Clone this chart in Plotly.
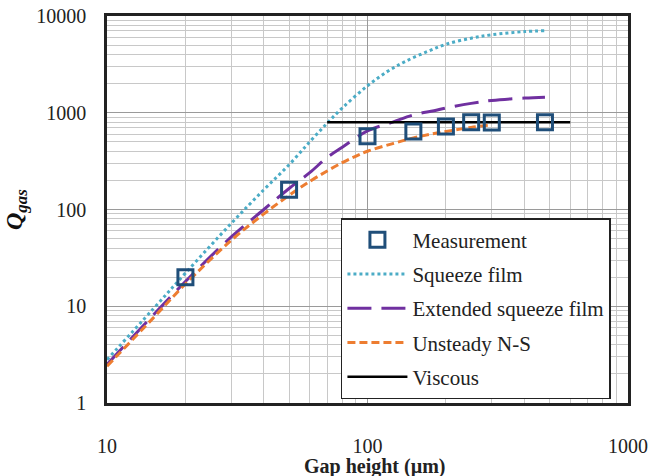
import plotly.graph_objects as go

# Measurement
gap_meas = [20, 50, 100, 150, 200, 250, 300, 480]
q_meas = [20, 160, 570, 640, 720, 800, 795, 800]

# Squeeze film model
gap_sq = [10, 15, 20, 30, 40, 50, 60, 70, 80, 100, 120, 140, 170, 200, 250, 300, 400, 480]
q_sq = [2.8, 9.3, 22, 72, 160, 290, 500, 780, 1120, 1900, 2700, 3400, 4300, 5100, 5900, 6400, 6900, 7050]

# Extended squeeze film model
gap_ext = [10, 20, 30, 40, 50, 60, 70, 80, 100, 125, 150, 180, 200, 250, 300, 400, 480]
q_ext = [2.5, 18, 52, 100, 165, 240, 345, 440, 650, 800, 950, 1050, 1120, 1250, 1340, 1420, 1450]

# Unsteady N-S
gap_ns = [10, 15, 20, 30, 40, 50, 60, 70, 80, 90, 100, 125, 150, 175, 200, 250, 300]
q_ns = [2.4, 7.5, 17, 48, 90, 140, 195, 250, 305, 355, 400, 480, 550, 600, 640, 705, 750]

# Viscous
gap_visc = [70, 600]
q_visc = [800, 800]

x_ticks = [10, 100, 1000]
x_ticktext = ["10", "100", "1000"]
y_ticks = [1, 10, 100, 1000, 10000]
y_ticktext = ["1", "10", "100", "1000", "10000"]

FONT = "Liberation Serif, Times New Roman, serif"

fig = go.Figure()
fig.add_trace(go.Scatter(x=gap_sq, y=q_sq, mode="lines", name="Squeeze film",
                         line=dict(color="#4bacc6", width=3, dash="3px,3px", shape="spline"),
                         legendrank=2, legendgroup="b"))
fig.add_trace(go.Scatter(x=gap_ext, y=q_ext, mode="lines", name="Extended squeeze film",
                         line=dict(color="#7030a0", width=3, dash="24px,10px", shape="spline"),
                         legendrank=3, legendgroup="c"))
fig.add_trace(go.Scatter(x=gap_ns, y=q_ns, mode="lines", name="Unsteady N-S",
                         line=dict(color="#ed7d31", width=3, dash="8px,4px", shape="spline"),
                         legendrank=4, legendgroup="d"))
fig.add_trace(go.Scatter(x=gap_visc, y=q_visc, mode="lines", name="Viscous",
                         line=dict(color="black", width=2.5),
                         legendrank=5, legendgroup="e"))
fig.add_trace(go.Scatter(x=gap_meas, y=q_meas, mode="markers", name="Measurement",
                         marker=dict(symbol="square-open", size=15, color="#1f4e79",
                                     line=dict(width=3, color="#1f4e79")),
                         legendrank=1, legendgroup="a"))

fig.update_layout(
    width=651, height=476,
    margin=dict(l=107, r=23, t=16, b=73, autoexpand=False),
    paper_bgcolor="white", plot_bgcolor="white",
    font=dict(family=FONT, size=20, color="#222"),
    showlegend=True,
    legend=dict(x=0.449, y=0.478, xanchor="left", yanchor="top",
                bgcolor="white", bordercolor="#222", borderwidth=1.5,
                font=dict(family=FONT, size=21, color="#222"),
                itemwidth=60, tracegroupgap=4),
)
fig.update_xaxes(type="log", range=[1, 3], tickvals=x_ticks, ticktext=x_ticktext,
                 showgrid=True, gridcolor="#9a9a9a", gridwidth=1.3,
                 minor=dict(dtick="D1", showgrid=True, gridcolor="#c8c8c8", gridwidth=1, ticks=""),
                 showline=True, mirror=True, linecolor="#222", linewidth=2.5,
                 ticks="", ticklabelstandoff=23, zeroline=False, automargin=False,
                 ticklabeloverflow="allow")
fig.update_yaxes(type="log", range=[0, 4], tickvals=y_ticks, ticktext=y_ticktext,
                 showgrid=True, gridcolor="#9a9a9a", gridwidth=1.3,
                 minor=dict(dtick="D1", showgrid=True, gridcolor="#c8c8c8", gridwidth=1, ticks=""),
                 showline=True, mirror=True, linecolor="#222", linewidth=2.5,
                 ticks="", ticklabelstandoff=14, zeroline=False, automargin=False,
                 ticklabeloverflow="allow")

fig.add_annotation(text="<b>Gap height (µm)</b>", xref="paper", yref="paper",
                   x=0.514, y=-0.163, xanchor="center", yanchor="middle", showarrow=False,
                   font=dict(family=FONT, size=20, color="#222"))
fig.add_annotation(text="<b><i>Q</i></b><sub><b><i>gas</i></b></sub>", xref="paper", yref="paper",
                   x=-0.1745, y=0.499, xanchor="center", yanchor="middle", showarrow=False,
                   textangle=-90, font=dict(family=FONT, size=24, color="#111"))

# remove the default 8px page margin so the figure fills the window exactly
fig.write_html("out.html", config={"displayModeBar": False},
               post_script="document.body.style.margin='0';")
